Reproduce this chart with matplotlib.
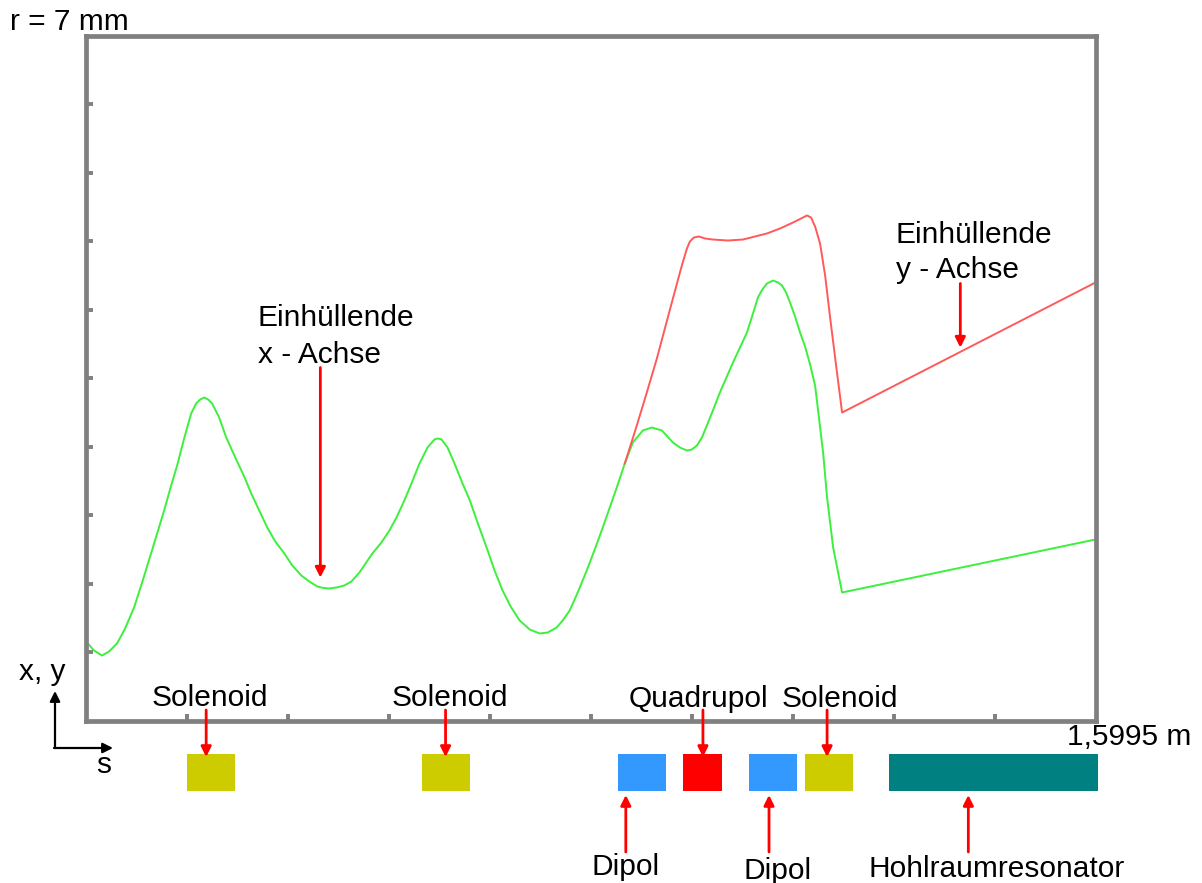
import numpy as np
import matplotlib.pyplot as plt
import matplotlib.transforms as mtransforms

plt.rcParams['font.family'] = ['Liberation Sans', 'DejaVu Sans']

W, H = 1202, 883
FS = 21.5

s_max = 1.5995   # m
r_max = 7.0      # mm

# Einhuellende x-Achse (gruen)
s_x = [0.0016, 0.0127, 0.0254, 0.0365, 0.0492, 0.0619, 0.0762, 0.0889, 0.1031, 0.1238,
       0.1349, 0.1444, 0.1555, 0.1666, 0.1745, 0.1809, 0.1872, 0.1936, 0.1999, 0.2110,
       0.2222, 0.2380, 0.2507, 0.2618, 0.2745, 0.2872, 0.2999, 0.3142, 0.3269, 0.3412,
       0.3539, 0.3666, 0.3761, 0.3856, 0.3967, 0.4094, 0.4205, 0.4332, 0.4538, 0.4681,
       0.4808, 0.4919, 0.5030, 0.5157, 0.5284, 0.5411, 0.5522, 0.5578, 0.5633, 0.5728,
       0.5839, 0.5966, 0.6077, 0.6204, 0.6347, 0.6474, 0.6601, 0.6728, 0.6871, 0.7030,
       0.7188, 0.7315, 0.7458, 0.7553, 0.7664, 0.7791, 0.7934, 0.8061, 0.8188, 0.8299,
       0.8410, 0.8537, 0.8664, 0.8823, 0.8965, 0.9124, 0.9299, 0.9410, 0.9521, 0.9600,
       0.9679, 0.9759, 0.9838, 0.9933, 1.0044, 1.0251, 1.0473, 1.0568, 1.0647, 1.0711,
       1.0790, 1.0885, 1.0965, 1.1028, 1.1092, 1.1155, 1.1235, 1.1314, 1.1393, 1.1473,
       1.1552, 1.1615, 1.1679, 1.1742, 1.1838, 1.1980, 1.5995]
r_x = [0.797, 0.715, 0.664, 0.705, 0.787, 0.940, 1.155, 1.410, 1.707, 2.146,
       2.401, 2.606, 2.882, 3.137, 3.239, 3.280, 3.301, 3.280, 3.239, 3.096,
       2.892, 2.667, 2.493, 2.320, 2.146, 1.972, 1.829, 1.707, 1.584, 1.482,
       1.420, 1.369, 1.354, 1.349, 1.359, 1.380, 1.420, 1.512, 1.707, 1.819,
       1.942, 2.074, 2.228, 2.422, 2.626, 2.790, 2.872, 2.882, 2.872, 2.790,
       2.626, 2.422, 2.258, 2.023, 1.768, 1.533, 1.328, 1.165, 1.022, 0.930,
       0.889, 0.899, 0.950, 1.022, 1.124, 1.308, 1.533, 1.747, 1.972, 2.177,
       2.381, 2.626, 2.841, 2.964, 2.994, 2.964, 2.841, 2.790, 2.759, 2.769,
       2.810, 2.892, 3.015, 3.168, 3.352, 3.658, 3.965, 4.159, 4.323, 4.399,
       4.466, 4.496, 4.476, 4.445, 4.374, 4.272, 4.128, 3.965, 3.822, 3.638,
       3.423, 3.086, 2.739, 2.279, 1.768, 1.308, 1.850]

# Einhuellende y-Achse (rot)
s_y = [0.8537, 0.8632, 0.8727, 0.8886, 0.9045, 0.9172, 0.9299, 0.9441, 0.9521, 0.9568,
       0.9632, 0.9711, 0.9807, 0.9933, 1.0171, 1.0410, 1.0600, 1.0790, 1.0997, 1.1203,
       1.1330, 1.1425, 1.1488, 1.1552, 1.1631, 1.1711, 1.1790, 1.1885, 1.1980, 1.5995]
r_y = [2.626, 2.820, 3.015, 3.352, 3.699, 4.006, 4.312, 4.650, 4.823, 4.895,
       4.936, 4.946, 4.926, 4.915, 4.905, 4.915, 4.946, 4.977, 5.028, 5.089,
       5.130, 5.161, 5.140, 5.048, 4.874, 4.548, 4.118, 3.628, 3.147, 4.476]

# Strahlfuehrungselemente
elem_names = ['Solenoid', 'Solenoid', 'Dipol', 'Quadrupol', 'Dipol', 'Solenoid', 'Hohlraumresonator']
elem_start = [0.1603, 0.5316, 0.8426, 0.9457, 1.0505, 1.1393, 1.2726]
elem_end = [0.2364, 0.6077, 0.9188, 1.0076, 1.1266, 1.2155, 1.6027]

elem_colors = {'Solenoid': '#cccc00', 'Dipol': '#3399ff', 'Quadrupol': '#ff0000',
               'Hohlraumresonator': '#008080'}
# layout: arrow x (m), label centre x (m), label baseline (px)
arrow_s = [0.1904, 0.5697, 0.8553, 0.9775, 1.0822, 1.1742, 1.3980]
label_s = [0.1968, 0.5760, 0.8553, 0.9711, 1.0965, 1.1949, 1.4427]
label_base = [706, 706, 875, 707, 879, 707, 877]


def fx(px):
    return px / W


def fy(py):
    return 1 - py / H


fig = plt.figure(figsize=(W / 100, H / 100), dpi=100)
ax = fig.add_axes([fx(86), fy(720.5), (1095.5 - 86) / W, 685 / H])

ax.plot(s_x, r_x, color='#3cf03c', lw=1.4, solid_joinstyle='round')
ax.plot(s_y, r_y, color='#ff5a5a', lw=1.4, solid_joinstyle='round')

ax.set_xlim(0, s_max)
ax.set_ylim(0, r_max)
ax.set_xticks(np.arange(1, 10) * s_max / 10)
ax.set_yticks(np.arange(1, 10) * r_max / 10)
ax.tick_params(direction='in', length=5, width=2.8, color='#808080',
               labelbottom=False, labelleft=False)
for sp in ax.spines.values():
    sp.set_color('#808080')
    sp.set_linewidth(3.4)

trans = mtransforms.blended_transform_factory(ax.transData, fig.transFigure)
red_arrow = dict(arrowstyle='-|>', color='red', lw=2, mutation_scale=15, shrinkA=0, shrinkB=0)

for name, s0, s1, sa, sl, yb in zip(elem_names, elem_start, elem_end, arrow_s, label_s, label_base):
    ax.add_patch(plt.Rectangle((s0, fy(791)), s1 - s0, (791 - 754) / H, transform=trans,
                               facecolor=elem_colors[name], edgecolor='none', clip_on=False))
    if yb < 750:
        ax.annotate('', xy=(sa, fy(757)), xytext=(sa, fy(710)), xycoords=trans,
                    textcoords=trans, arrowprops=red_arrow, annotation_clip=False)
    else:
        ax.annotate('', xy=(sa, fy(795)), xytext=(sa, fy(852)), xycoords=trans,
                    textcoords=trans, arrowprops=red_arrow, annotation_clip=False)
    ax.text(sl, fy(yb), name, transform=trans, ha='center', va='baseline', fontsize=FS)

# Einhuellende labels
fig.text(fx(258), fy(326), 'Einhüllende', fontsize=FS, va='baseline')
fig.text(fx(258), fy(363), 'x - Achse', fontsize=FS, va='baseline')
ax.annotate('', xy=(0.3713, 1.46), xytext=(0.3713, 3.607), arrowprops=red_arrow)

fig.text(fx(896), fy(243), 'Einhüllende', fontsize=FS, va='baseline')
fig.text(fx(896), fy(278), 'y - Achse', fontsize=FS, va='baseline')
ax.annotate('', xy=(1.3853, 3.81), xytext=(1.3853, 4.466), arrowprops=red_arrow)

fig.text(fx(10), fy(30), 'r = 7 mm', fontsize=FS, va='baseline')
fig.text(fx(1067), fy(745), '1,5995 m', fontsize=FS, va='baseline')

# Koordinatensystem unten links
black_arrow = dict(arrowstyle='-|>', color='black', lw=1.6, mutation_scale=15, shrinkA=0, shrinkB=0)
ax.annotate('', xy=(fx(55), fy(691)), xytext=(fx(55), fy(748)), xycoords='figure fraction',
            textcoords='figure fraction', arrowprops=black_arrow, annotation_clip=False)
ax.annotate('', xy=(fx(113), fy(748)), xytext=(fx(54), fy(748)), xycoords='figure fraction',
            textcoords='figure fraction', arrowprops=black_arrow, annotation_clip=False)
fig.text(fx(19), fy(680), 'x, y', fontsize=FS, va='baseline')
fig.text(fx(96), fy(773), 's', fontsize=FS, va='baseline')

fig.savefig('out.png', dpi=100)
